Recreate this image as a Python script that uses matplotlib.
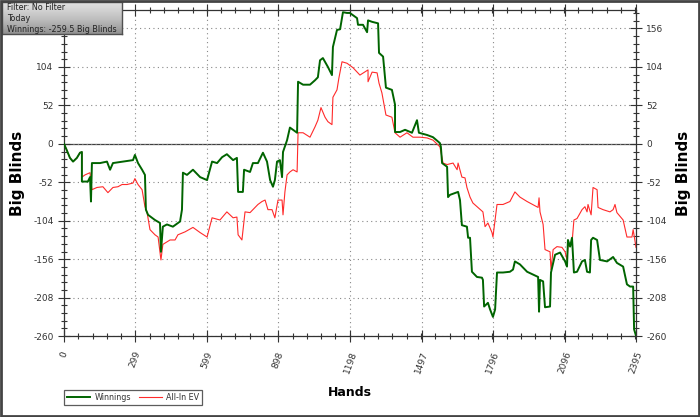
import numpy as np
import matplotlib.pyplot as plt
from matplotlib.patches import Rectangle
from matplotlib.ticker import AutoMinorLocator

# Ganancias (manos, big blinds)
win_hands = [0, 11, 25, 38, 54, 67, 75, 75, 100, 109, 113, 117, 151, 180, 193, 205, 247, 289, 297, 310,
             327, 339, 343, 352, 381, 402, 406, 414, 431, 456, 486, 494, 498, 515, 540, 570, 599,
             620, 641, 662, 682, 708, 724, 729, 749, 754, 779, 791, 812, 833, 850, 863, 875, 883, 892,
             904, 913, 917, 934, 946, 959, 976, 980, 1001, 1030, 1051, 1063, 1072, 1084, 1105, 1122,
             1126, 1143, 1156, 1168, 1185, 1197, 1227, 1231, 1252, 1269, 1273, 1290, 1315, 1319, 1336,
             1348, 1373, 1386, 1386, 1407, 1428, 1457, 1478, 1486, 1520, 1545, 1574, 1578, 1583, 1604,
             1608, 1616, 1650, 1658, 1666, 1687, 1692, 1700, 1708, 1729, 1750, 1754, 1759, 1775, 1784,
             1796, 1805, 1813, 1838, 1867, 1880, 1888, 1909, 1939, 1985, 1989, 1993, 2006, 2014, 2035,
             2039, 2056, 2077, 2098, 2106, 2110, 2119, 2127, 2135, 2148, 2169, 2181, 2190, 2202, 2207,
             2215, 2232, 2244, 2274, 2299, 2315, 2341, 2357, 2370, 2383, 2387, 2395]
win_bb = [0, -8, -19, -24, -19, -12, -11, -51, -51, -45, -78, -26, -26, -24, -35, -26, -24, -22, -15, -26,
          -35, -42, -89, -96, -103, -107, -146, -112, -109, -112, -105, -89, -39, -42, -35, -45, -49,
          -24, -26, -18, -14, -22, -19, -65, -65, -35, -38, -26, -26, -12, -24, -49, -58, -49, -24,
          -22, -45, -11, 5, 22, 19, 15, 84, 80, 80, 86, 90, 113, 116, 104, 93,
          131, 154, 155, 178, 177, 177, 170, 161, 161, 151, 167, 165, 163, 123, 118,
          76, 73, 53, 16, 16, 19, 15, 32, 15, 12, 9, 1, -4, -26, -31,
          -72, -69, -65, -76, -110, -112, -127, -127, -173, -180, -181, -184, -220, -215, -224,
          -234, -224, -174, -174, -173, -170, -159, -163, -173, -180, -227, -184, -186, -221, -220,
          -174, -150, -147, -159, -166, -130, -139, -127, -174, -173, -159, -157, -173, -174, -130,
          -127, -130, -157, -159, -153, -161, -166, -190, -193, -193, -251, -259.5]

# All-In EV
ev_hands = [0, 11, 25, 38, 54, 67, 75, 75, 88, 109, 117, 138, 163, 184, 205, 226, 243, 264, 289, 297,
            310, 327, 339, 348, 360, 381, 394, 406, 414, 444, 465, 477, 507, 540, 570, 599,
            620, 653, 682, 708, 724, 729, 745, 758, 779, 791, 812, 829, 842, 854, 871, 883, 896, 913,
            917, 925, 934, 946, 959, 976, 980, 1001, 1030, 1051, 1063, 1076, 1093, 1105, 1122, 1126,
            1143, 1151, 1164, 1185, 1210, 1239, 1273, 1273, 1290, 1311, 1319, 1331, 1348, 1373, 1386,
            1407, 1436, 1461, 1491, 1520, 1545, 1574, 1587, 1604, 1629, 1646, 1650, 1666, 1679, 1687,
            1700, 1712, 1733, 1754, 1763, 1775, 1792, 1796, 1813, 1838, 1867, 1888, 1909, 1939, 1985,
            1989, 1993, 2006, 2014, 2035, 2039, 2048, 2064, 2085, 2098, 2106, 2110, 2127, 2135, 2148,
            2169, 2181, 2190, 2194, 2207, 2215, 2232, 2236, 2257, 2286, 2299, 2307, 2315, 2341, 2357,
            2378, 2383, 2395]
ev_bb = [0, -8, -19, -24, -19, -12, -11, -45, -42, -39, -62, -59, -58, -66, -59, -58, -55, -55, -53, -47,
         -55, -62, -85, -93, -116, -123, -126, -157, -136, -130, -130, -123, -119, -113, -120, -126,
         -100, -103, -92, -100, -99, -123, -130, -92, -93, -89, -82, -78, -76, -89, -89, -100, -76, -76,
         -96, -65, -42, -38, -35, -38, 15, 15, 9, 23, 32, 49, 36, 30, 26, 63,
         73, 89, 111, 109, 103, 93, 100, 84, 97, 96, 82, 69, 39, 36, 15,
         9, 15, 9, 9, 8, 5, -4, -26, -28, -26, -35, -26, -45, -46, -59,
         -72, -80, -86, -92, -112, -107, -120, -126, -82, -82, -78, -65, -72, -78, -86,
         -73, -92, -109, -143, -146, -170, -143, -139, -140, -146, -157, -139, -134, -103, -101,
         -89, -85, -92, -82, -96, -59, -62, -86, -89, -92, -89, -82, -93, -103, -126,
         -126, -116, -140]

y_ticks = [-260, -208, -156, -104, -52, 0, 52, 104, 156]
x_ticks = [0, 299, 599, 898, 1198, 1497, 1796, 2096, 2395]

fig = plt.figure(figsize=(7, 4.17), dpi=100)
ax = fig.add_axes([0.0914, 0.194, 0.8172, 0.782])

ax.axhline(0, color='#404040', lw=0.9, zorder=1)
ax.plot(ev_hands, ev_bb, color='#ff2a2a', lw=0.8, label='All-In EV', zorder=2)
ax.plot(win_hands, win_bb, color='#006400', lw=1.4, label='Winnings', zorder=3)

ax.set_xlim(0, 2395)
ax.set_ylim(-260, 181)
ax.set_xticks(x_ticks)
ax.set_xticklabels([str(t) for t in x_ticks], rotation=70, fontsize=6.5, color='#333333')
ax.set_yticks(y_ticks)
ax.set_yticklabels([str(t) for t in y_ticks], fontsize=6.5, color='#333333')
ax.xaxis.set_minor_locator(AutoMinorLocator(5))
ax.yaxis.set_minor_locator(AutoMinorLocator(5))
ax.tick_params(which='major', direction='inout', length=8, width=0.8, top=True, right=True,
               labelright=True, color='#333333')
ax.tick_params(which='minor', direction='inout', length=5, width=0.8, top=True, right=True,
               color='#333333')
ax.tick_params(axis='x', pad=6)
# la etiqueta 156 de la izquierda queda tapada por la caja de info
ax.yaxis.get_major_ticks()[-1].label1.set_visible(False)
ax.grid(True, which='major', linestyle=(0, (1, 3)), color='#888888', lw=0.8)
for s in ax.spines.values():
    s.set_color('#333333')
    s.set_linewidth(0.9)

ax.set_xlabel('Hands', fontsize=9, fontweight='bold', labelpad=8)
ax.set_ylabel('Big Blinds', fontsize=11, fontweight='bold', labelpad=6)
ax.text(1.083, 0.5, 'Big Blinds', transform=ax.transAxes, rotation=90, fontsize=11,
        fontweight='bold', ha='center', va='center')

# leyenda (orden: Winnings, All-In EV)
h, l = ax.get_legend_handles_labels()
leg = fig.legend(h[::-1], l[::-1], loc='lower left', bbox_to_anchor=(0.086, 0.02), ncol=2,
                 fontsize=5.8, frameon=True, fancybox=False, handlelength=2.8, columnspacing=1.0,
                 borderpad=0.35, handletextpad=0.6)
leg.get_frame().set_edgecolor('#333333')
leg.get_frame().set_linewidth(0.9)
for t in leg.get_texts():
    t.set_color('#333333')

# caja de info con degradado
box = fig.add_axes([0.003, 0.918, 0.172, 0.077])
grad = np.linspace(0, 1, 50).reshape(-1, 1)
box.imshow(grad, aspect='auto', cmap='Greys', vmin=-0.6, vmax=2.5, extent=[0, 1, 0, 1])
box.set_xticks([])
box.set_yticks([])
for s in box.spines.values():
    s.set_color('#505050')
    s.set_linewidth(1)
for i, txt in enumerate(['Filter: No Filter', 'Today', 'Winnings: -259.5 Big Blinds']):
    box.text(0.04, 0.84 - i * 0.34, txt, fontsize=5.8, color='#222222', va='center',
             transform=box.transAxes)

# borde de la figura
fig.patches.append(Rectangle((0.0015, 0.002), 0.997, 0.996, transform=fig.transFigure,
                             fill=False, edgecolor='#444444', lw=2))

fig.savefig('out.png', dpi=100)
